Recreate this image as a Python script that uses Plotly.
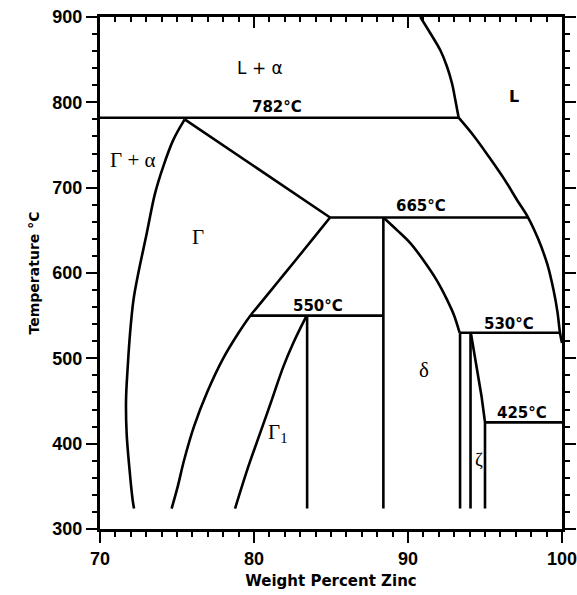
import plotly.graph_objects as go

# Fe-Zn phase diagram, zinc-rich end (wt% Zn vs temperature in degC)

# Phase boundaries: (wt% Zn, degC) pairs
liquidus_upper_x = [90.8, 91.45, 92.1, 92.53, 92.86, 93.07, 93.29]
liquidus_upper_t = [900, 881, 861, 842, 822, 803, 782]

liquidus_lower_x = [93.29, 94.3, 95.3, 96.25, 97.1, 97.8, 98.45, 99.05, 99.45, 99.7, 99.87, 100.0]
liquidus_lower_t = [782, 760, 735, 710, 685, 665, 640, 610, 580, 555, 530, 518]

gamma_left_x = [75.5, 74.76, 74.11, 73.57, 73.03, 72.49, 72.17, 71.95, 71.8, 71.69, 71.73, 71.9, 72.12, 72.21]
gamma_left_t = [780, 756, 725, 693, 646, 600, 568, 529, 490, 451, 412, 373, 334, 324]

gamma_peritectic_x = [75.5, 84.94]
gamma_peritectic_t = [780, 665]

gamma_right_x = [84.94, 83.82, 82.7, 81.57, 80.44, 79.76, 79.0, 78.0, 76.95, 76.1, 75.45, 75.05, 74.65]
gamma_right_t = [665, 640, 615, 590, 565, 550, 530, 500, 460, 420, 380, 350, 324]

gamma1_left_x = [83.42, 82.55, 81.9, 81.15, 80.39, 79.63, 78.77]
gamma1_left_t = [550, 518, 490, 451, 412, 373, 324]

gamma1_right_x = [83.45, 83.45]
gamma1_right_t = [550, 324]

delta_left_x = [88.4, 88.4]
delta_left_t = [665, 324]

delta_right_x = [88.4, 89.3, 90.15, 91.0, 91.85, 92.5, 93.0, 93.35]
delta_right_t = [665, 650, 635, 615, 592, 570, 550, 530]

delta_zeta_x = [93.38, 93.38]
delta_zeta_t = [530, 324]

zeta_left_x = [94.06, 94.06]
zeta_left_t = [530, 324]

zeta_right_x = [94.08, 94.45, 94.78, 95.0, 95.0]
zeta_right_t = [530, 490, 455, 425, 324]

# Invariant isotherms: temperature and Zn extent
isotherm_t = [782, 665, 550, 530, 425]
isotherm_x0 = [70.0, 84.94, 79.76, 93.35, 95.0]
isotherm_x1 = [93.29, 97.8, 88.4, 99.87, 100.0]

# Axis ticks
x_ticks = [70, 80, 90, 100]
y_ticks = [300, 400, 500, 600, 700, 800, 900]

# (x, T, smooth curve?)
boundaries = [
    (liquidus_upper_x, liquidus_upper_t, True),
    (liquidus_lower_x, liquidus_lower_t, True),
    (gamma_left_x, gamma_left_t, True),
    (gamma_peritectic_x, gamma_peritectic_t, False),
    (gamma_right_x, gamma_right_t, True),
    (gamma1_left_x, gamma1_left_t, True),
    (gamma1_right_x, gamma1_right_t, False),
    (delta_left_x, delta_left_t, False),
    (delta_right_x, delta_right_t, True),
    (delta_zeta_x, delta_zeta_t, False),
    (zeta_left_x, zeta_left_t, False),
    (zeta_right_x, zeta_right_t, False),
]

fig = go.Figure()

for bx, bt, smooth in boundaries:
    fig.add_trace(go.Scatter(
        x=bx, y=bt, mode="lines",
        line=dict(color="black", width=2.6,
                  shape="spline" if smooth else "linear", smoothing=1.0),
        hoverinfo="skip", showlegend=False))

for t, x0, x1 in zip(isotherm_t, isotherm_x0, isotherm_x1):
    fig.add_trace(go.Scatter(x=[x0, x1], y=[t, t], mode="lines",
                             line=dict(color="black", width=2.6),
                             hoverinfo="skip", showlegend=False))

# empty trace so the mirrored top/right axes get drawn
fig.add_trace(go.Scatter(x=[], y=[], xaxis="x2", yaxis="y2",
                         hoverinfo="skip", showlegend=False))

# Isotherm temperature labels
iso_label_pos = {782: (81.5, 794), 665: (90.85, 678), 550: (84.15, 561),
                 530: (96.55, 540), 425: (97.4, 436)}
bold = dict(family="DejaVu Sans", size=15, color="black", weight="bold")
for t in isotherm_t:
    lx, ly = iso_label_pos[t]
    fig.add_annotation(x=lx, y=ly, text=f"{t}°C", showarrow=False, font=bold)

# Phase field labels
serif = dict(family="Liberation Serif", size=21, color="black")
sans = dict(family="DejaVu Sans", size=17, color="black")
phase_labels = [
    ("L + α", 80.4, 840, sans),
    ("L", 96.9, 807, dict(family="DejaVu Sans", size=16, color="black", weight="bold")),
    ("Γ + α", 72.15, 733, serif),
    ("Γ", 76.35, 642, serif),
    ("Γ<sub>1</sub>", 81.5, 413, serif),
    ("δ", 91.05, 486, serif),
    ("ζ", 94.6, 381, dict(family="Liberation Serif", size=19, color="black")),
]
for txt, lx, ly, f in phase_labels:
    fig.add_annotation(x=lx, y=ly, text=txt, showarrow=False, font=f)

tick_font = dict(family="Liberation Sans", size=18, color="black", weight="bold")
axis_common = dict(showline=True, linecolor="black", linewidth=3,
                   showgrid=False, zeroline=False, automargin=False)

fig.update_layout(
    width=577, height=595,
    margin=dict(l=100, r=15, t=17, b=66, autoexpand=False),
    paper_bgcolor="white", plot_bgcolor="white",
    xaxis=dict(range=[70, 100], tickvals=x_ticks, ticks="outside", ticklen=11,
               tickwidth=2, tickcolor="black", tickfont=tick_font,
               ticklabeloverflow="allow",
               minor=dict(dtick=1, ticks="outside", ticklen=5, tickwidth=2,
                          tickcolor="black", showgrid=False),
               title=dict(text="Weight Percent Zinc", standoff=8,
                          font=dict(family="DejaVu Sans", size=15, color="black",
                                    weight="bold")),
               **axis_common),
    yaxis=dict(range=[300, 900], tickvals=y_ticks, ticks="outside", ticklen=11,
               tickwidth=2, tickcolor="black", tickfont=tick_font,
               minor=dict(dtick=20, ticks="outside", ticklen=5, tickwidth=2,
                          tickcolor="black", showgrid=False),
               title=dict(text="Temperature °C", standoff=10,
                          font=dict(family="DejaVu Sans", size=14, color="black",
                                    weight="bold")),
               **axis_common),
    xaxis2=dict(range=[70, 100], overlaying="x", side="top", anchor="y",
                tickvals=x_ticks, ticks="inside", ticklen=11, tickwidth=2,
                tickcolor="black", showticklabels=False,
                minor=dict(dtick=1, ticks="inside", ticklen=5, tickwidth=2,
                           tickcolor="black", showgrid=False),
                **axis_common),
    yaxis2=dict(range=[300, 900], overlaying="y", side="right", anchor="x",
                tickvals=y_ticks, ticks="outside", ticklen=11, tickwidth=2,
                tickcolor="black", showticklabels=False,
                minor=dict(dtick=20, ticks="outside", ticklen=5, tickwidth=2,
                           tickcolor="black", showgrid=False),
                **axis_common),
)

fig.write_html("out.html")
